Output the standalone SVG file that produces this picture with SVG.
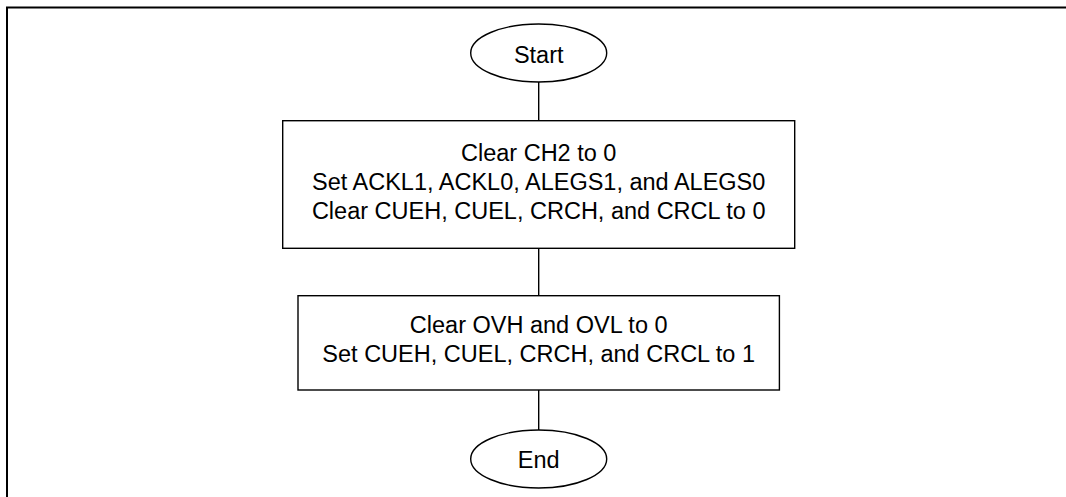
<svg xmlns="http://www.w3.org/2000/svg" width="1066" height="497" viewBox="0 0 1066 497">
<style>
.shape{fill:#fff;stroke:#000;stroke-width:1.4}
.conn{stroke:#000;stroke-width:1.4;fill:none}
.frame{stroke:#000;stroke-width:2;fill:none}
text{font-family:"Liberation Sans",Arial,sans-serif;font-size:23.5px;fill:#000;text-anchor:middle}
</style>
<rect width="1066" height="497" fill="#fff"/>
<path class="frame" d="M7,497 V7.5 H1066"/>
<g id="connectors">
<line class="conn" x1="538.7" y1="82" x2="538.7" y2="120.7"/>
<line class="conn" x1="538.7" y1="248.3" x2="538.7" y2="295.7"/>
<line class="conn" x1="538.7" y1="390" x2="538.7" y2="430"/>
</g>
<g id="start">
<ellipse class="shape" cx="538.7" cy="53" rx="68" ry="29"/>
<text x="538.7" y="63">Start</text>
</g>
<g id="step1">
<rect class="shape" x="282.7" y="120.7" width="512" height="127.6"/>
<text x="538.7" y="161">Clear CH2 to 0</text>
<text x="538.7" y="190">Set ACKL1, ACKL0, ALEGS1, and ALEGS0</text>
<text x="538.7" y="219">Clear CUEH, CUEL, CRCH, and CRCL to 0</text>
</g>
<g id="step2">
<rect class="shape" x="298" y="295.7" width="481.4" height="94.3"/>
<text x="538.7" y="333">Clear OVH and OVL to 0</text>
<text x="538.7" y="362">Set CUEH, CUEL, CRCH, and CRCL to 1</text>
</g>
<g id="end">
<ellipse class="shape" cx="538.7" cy="459" rx="68" ry="29"/>
<text x="538.7" y="468">End</text>
</g>
</svg>
